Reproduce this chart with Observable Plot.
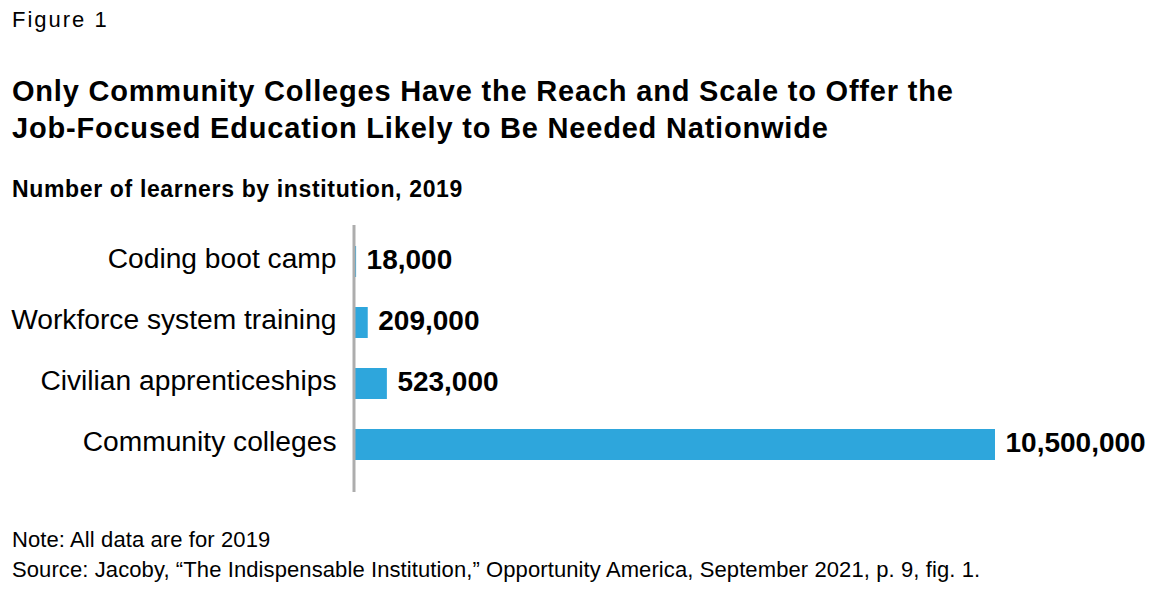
<!DOCTYPE html>
<html>
<head>
<meta charset="utf-8">
<script src="https://cdn.jsdelivr.net/npm/d3@7"></script>
<script src="https://cdn.jsdelivr.net/npm/@observablehq/plot@0.6"></script>
<style>
  body { margin: 0; background: #fff; font-family: "Liberation Sans", Arial, Helvetica, sans-serif; color: #000; }
  #wrap { position: relative; width: 1155px; height: 605px; }
  .fig { position: absolute; left: 12px; top: 6px; font-size: 22px; letter-spacing: 2px; line-height: 28px; }
  .title { position: absolute; left: 12px; top: 73px; font-size: 29px; letter-spacing: 0.8px; font-weight: bold; line-height: 37px; }
  .sub { position: absolute; left: 12px; top: 175px; font-size: 23px; letter-spacing: 0.65px; font-weight: bold; line-height: 28px; }
  .note { position: absolute; left: 12px; font-size: 22px; line-height: 26px; letter-spacing: 0.1px; }
  #chart { position: absolute; left: 0; top: 210px; }
</style>
</head>
<body>
<div id="wrap">
  <div class="fig">Figure 1</div>
  <div class="title">Only Community Colleges Have the Reach and Scale to Offer the<br>Job-Focused Education Likely to Be Needed Nationwide</div>
  <div class="sub">Number of learners by institution, 2019</div>
  <div id="chart"></div>
  <div class="note" style="top:527px">Note: All data are for 2019</div>
  <div class="note" style="top:557px">Source: Jacoby, “The Indispensable Institution,” Opportunity America, September 2021, p. 9, fig. 1.</div>
</div>
<script>
const categories = ["Coding boot camp", "Workforce system training", "Civilian apprenticeships", "Community colleges"];
const learners = [18000, 209000, 523000, 10500000];
const valueLabels = ["18,000", "209,000", "523,000", "10,500,000"];

const data = categories.map((c, i) => ({category: c, value: learners[i], label: valueLabels[i]}));

const chart = Plot.plot({
  width: 1155,
  height: 290,
  marginTop: 15,
  marginBottom: 8,
  marginLeft: 355,
  marginRight: 160,
  style: {fontFamily: '"Liberation Sans", Arial, Helvetica, sans-serif', color: "#000", background: "transparent"},
  x: {domain: [0, 10500000], axis: null},
  y: {domain: categories, paddingInner: 0.5, paddingOuter: 0.33, insetBottom: 11, axis: null},
  marks: [
    Plot.barX(data, {x: "value", y: "category", fill: "#2ea6dc"}),
    Plot.ruleX([0], {stroke: "#adadad", strokeWidth: 3, dx: -1.5}),
    Plot.text(data, {x: "value", y: "category", text: "label", dx: 10, dy: -2, textAnchor: "start", fontWeight: "bold", fontSize: 28, fill: "#000"}),
    Plot.axisY({tickSize: 0, tickPadding: 19, fontSize: 28.2, dy: -3, label: null})
  ]
});
document.getElementById("chart").appendChild(chart);
</script>
</body>
</html>
